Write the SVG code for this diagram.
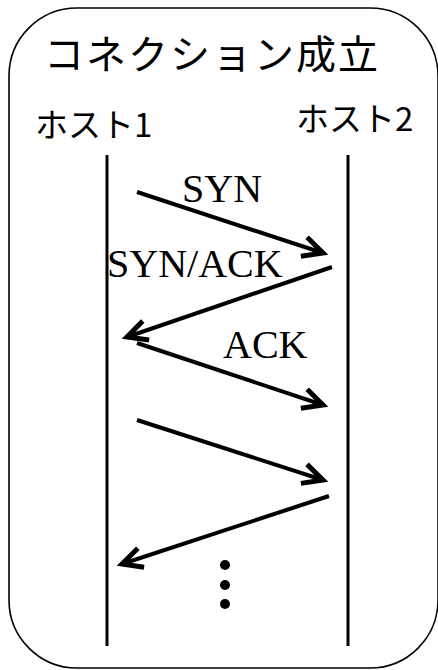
<svg xmlns="http://www.w3.org/2000/svg" width="438" height="670" viewBox="0 0 438 670">
<style>
.frame{fill:#fff;stroke:#000;stroke-width:1.6}
.life{stroke:#000;stroke-width:3}
.msg{stroke:#000;stroke-width:4;fill:none;marker-end:url(#ah)}
.jp{font-family:"Noto Sans CJK JP","Noto Sans",sans-serif;fill:#000}
.lbl{font-family:"Liberation Serif","Times New Roman",serif;font-size:40px;fill:#000}
</style>
<defs>
<marker id="ah" markerUnits="userSpaceOnUse" markerWidth="30" markerHeight="30" refX="0" refY="0" viewBox="-20 -12 24 24" orient="auto" overflow="visible">
<path d="M-16,-8 L0,0 L-16,8" fill="none" stroke="#000" stroke-width="4" stroke-linecap="butt" stroke-linejoin="miter"/>
</marker>
</defs>
<g id="frame"><rect class="frame" x="9" y="8" width="429" height="660" rx="68" ry="68"/></g>
<g id="title"><text class="jp" x="44" y="69" font-size="40" letter-spacing="2">コネクション成立</text></g>
<g id="host1">
<text class="jp" x="35" y="137" font-size="33">ホスト1</text>
<line class="life" x1="107" y1="155" x2="107" y2="646"/>
</g>
<g id="host2">
<text class="jp" x="296" y="131" font-size="33">ホスト2</text>
<line class="life" x1="348" y1="155" x2="348" y2="646"/>
</g>
<g id="connectors">
<line class="msg" x1="137" y1="192" x2="323" y2="253"/>
<line class="msg" x1="332" y1="267" x2="127" y2="337"/>
<line class="msg" x1="137" y1="343" x2="323" y2="405"/>
<line class="msg" x1="137" y1="420" x2="323" y2="480"/>
<line class="msg" x1="329" y1="496" x2="122" y2="564"/>
</g>
<g id="labels">
<text class="lbl" x="182" y="202">SYN</text>
<text class="lbl" x="107" y="277">SYN/ACK</text>
<text class="lbl" x="223" y="358">ACK</text>
</g>
<g id="ellipsis">
<circle cx="225" cy="565" r="5"/>
<circle cx="225" cy="585" r="5"/>
<circle cx="225" cy="604" r="5"/>
</g>
</svg>
